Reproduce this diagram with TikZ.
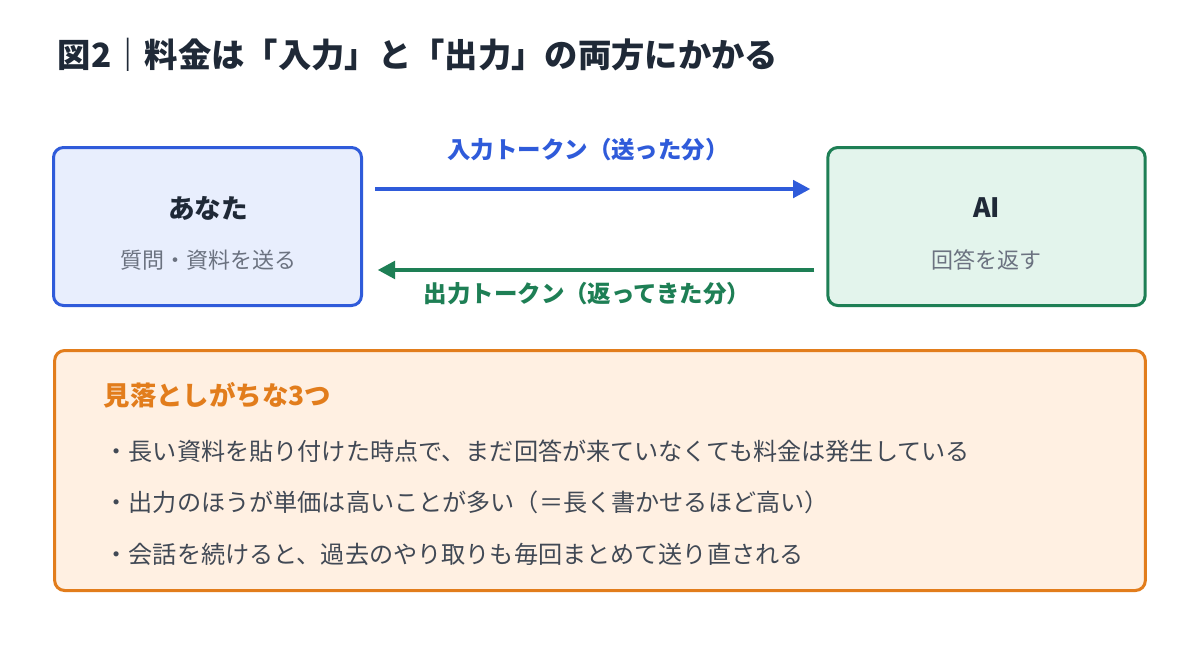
\documentclass[tikz,border=0pt]{standalone}
\usepackage{fontspec}
\setmainfont{Noto Sans CJK JP}
\usetikzlibrary{arrows.meta,positioning}
\definecolor{ink}{HTML}{1F2937}
\definecolor{mute}{HTML}{6B7280}
\definecolor{sendblue}{HTML}{2F5BDA}
\definecolor{sendfill}{HTML}{E8EEFD}
\definecolor{backgreen}{HTML}{1E7F55}
\definecolor{backfill}{HTML}{E3F4EC}
\definecolor{noteorange}{HTML}{E27D1C}
\definecolor{notefill}{HTML}{FFF0E2}
\tikzset{
    card/.style={draw, line width=2.25pt, rounded corners=7.5pt, inner sep=0pt},
    who/.style={font=\bfseries\fontsize{20}{24}\selectfont, text=ink},
    what/.style={font=\fontsize{16.5}{20}\selectfont, text=mute},
    flow/.style={line width=3pt, -{Triangle[length=13pt,width=13pt]}},
    flowtag/.style={font=\bfseries\fontsize{17.6}{21}\selectfont},
    bullet/.style={anchor=west, font=\fontsize{18.1}{22}\selectfont, text=ink!85}
}

\begin{document}
\begin{tikzpicture}[x=0.75pt,y=-0.75pt]
        \useasboundingbox[fill=white] (0,0) rectangle (1200,658);
        % heading
        \node[anchor=west, font=\bfseries\fontsize{25}{30}\selectfont, text=ink] (head) at (53,55) {図2｜料金は「入力」と「出力」の両方にかかる};
        % the two sides
        \node[card, draw=sendblue, fill=sendfill, minimum width=231pt, minimum height=118.5pt] (you) at (207.5,226.5) {};
        \node[card, draw=backgreen, fill=backfill, minimum width=238pt, minimum height=118.5pt] (ai) at (986.5,226.5) {};
        \node[who] (youname) at (208,208) {あなた};
        \node[what] (youtext) at (208,260) {質問・資料を送る};
        \node[who] (ainame) at (986.5,208) {AI};
        \node[what] (aitext) at (986.5,260) {回答を返す};
        % tokens going back and forth
        \draw[flow, sendblue, shorten <=9pt, shorten >=12pt] ([yshift=28.1pt]you.east) -- ([yshift=28.1pt]ai.west);
        \draw[flow, backgreen, shorten <=9pt, shorten >=11pt] ([yshift=-32.6pt]ai.west) -- ([yshift=-32.6pt]you.east);
        \node[flowtag, text=sendblue] (sendtag) at (588,150) {入力トークン（送った分）};
        \node[flowtag, text=backgreen] (backtag) at (587,294) {出力トークン（返ってきた分）};
        % things people miss
        \node[card, draw=noteorange, fill=notefill, minimum width=818pt, minimum height=180pt] (notes) at (600,470.5) {};
        \node[anchor=west, font=\bfseries\fontsize{19.8}{24}\selectfont, text=noteorange] (notehead) at (99,395) {見落としがちな3つ};
        \node[bullet] (miss1) at (100,451) {・長い資料を貼り付けた時点で、まだ回答が来ていなくても料金は発生している};
        \node[bullet] (miss2) at (100,502) {・出力のほうが単価は高いことが多い（＝長く書かせるほど高い）};
        \node[bullet] (miss3) at (100,554) {・会話を続けると、過去のやり取りも毎回まとめて送り直される};
\end{tikzpicture}
\end{document}
